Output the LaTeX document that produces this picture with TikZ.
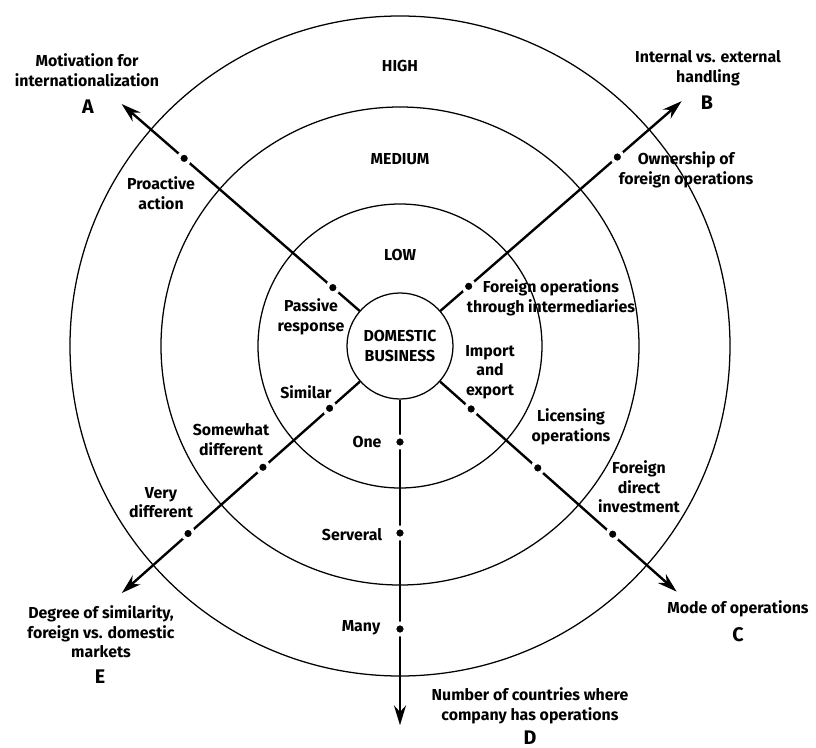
\documentclass[tikz,border=0pt]{standalone}
\usepackage{fontspec}
\setmainfont{Fira Sans}
\usetikzlibrary{arrows.meta}

\begin{document}
\begin{tikzpicture}[
  ring/.style={line width=0.9pt},
  axis/.style={line width=1.7pt, -{Stealth[length=14pt, width=8.5pt]}},
  dot/.style={circle, fill=black, draw=white, line width=2.5pt, inner sep=0pt, minimum size=8pt},
  lbl/.style={font=\bfseries\fontsize{11.3}{14}\selectfont, align=center, inner sep=1pt},
  letter/.style={font=\bfseries\fontsize{14}{14}\selectfont, inner sep=0pt}
]
\useasboundingbox (-10, -10.05) rectangle (10.4, 8.65);
\draw [ring] (0, 0) circle (3.55);
\draw [ring] (0, 0) circle (5.975);
\draw [ring] (0, 0) circle (8.25);

\node [lbl, circle, draw, ring, minimum size=2.65cm] (dom) at (0, 0) {DOMESTIC\\BUSINESS};

\coordinate (tipA) at (139:9.22);
\coordinate (tipB) at (41:9.33);
\coordinate (tipC) at (-41.6:9.25);
\coordinate (tipD) at (-90:9.48);
\coordinate (tipE) at (221.6:9.3);

\draw [axis] (dom) -- (tipA);
\draw [axis] (dom) -- (tipB);
\draw [axis] (dom) -- (tipC);
\draw [axis] (dom) -- (tipD);
\draw [axis] (dom) -- (tipE);

\foreach \n/\a/\r in {a1/139/2.225, a3/139/7.15, b1/41/2.275, b3/41/7.2,
    c1/-41.5/2.375, c2/-41.5/4.6, c3/-41.5/7.1,
    d1/-90/2.4, d2/-90/4.675, d3/-90/7.075,
    e1/221.5/2.35, e2/221.5/4.575, e3/221.5/7.075}
  \node [dot] (\n) at (\a:\r) {};

\node [lbl] (high) at (0, 7.0) {HIGH};
\node [lbl] (medium) at (0, 4.675) {MEDIUM};
\node [lbl] (low) at (0, 2.275) {LOW};

\node [lbl] (motiv) at (-7.825, 6.89) {Motivation for\\internationalization};
\node [letter] (letA) at (-7.8, 5.975) {A};
\node [lbl] (handl) at (7.7, 6.95) {Internal vs. external\\handling};
\node [letter] (letB) at (7.675, 6.075) {B};
\node [lbl] (modeop) at (8.45, -6.575) {Mode of operations};
\node [letter] (letC) at (8.45, -7.225) {C};
\node [lbl] (countr) at (3.25, -9.0) {Number of countries where\\company has operations};
\node [letter] (letD) at (3.25, -9.78) {D};
\node [lbl] (simil) at (-7.475, -7.15) {Degree of similarity,\\foreign vs. domestic\\markets};
\node [letter] (letE) at (-7.5, -8.275) {E};

\node [lbl] (proact) at (-5.975, 3.825) {Proactive\\action};
\node [lbl] (passiv) at (-2.225, 0.725) {Passive\\response};
\node [lbl] (owner) at (7.15, 4.4125) {Ownership of\\foreign operations};
\node [lbl] (interm) at (3.775, 1.2125) {Foreign operations\\through intermediaries};
\node [lbl] (import) at (2.25, -0.65) {Import\\and\\export};
\node [lbl] (licens) at (4.275, -2.025) {Licensing\\operations};
\node [lbl] (fdi) at (5.975, -3.525) {Foreign\\direct\\investment};
\node [lbl] (one) at (-0.825, -2.4) {One};
\node [lbl] (sever) at (-1.2, -4.725) {Serveral};
\node [lbl] (many) at (-0.975, -7.05) {Many};
\node [lbl] (similar) at (-2.35, -1.15) {Similar};
\node [lbl] (somew) at (-4.225, -2.3375) {Somewhat\\different};
\node [lbl] (verydiff) at (-5.975, -3.9125) {Very\\different};
\end{tikzpicture}
\end{document}
